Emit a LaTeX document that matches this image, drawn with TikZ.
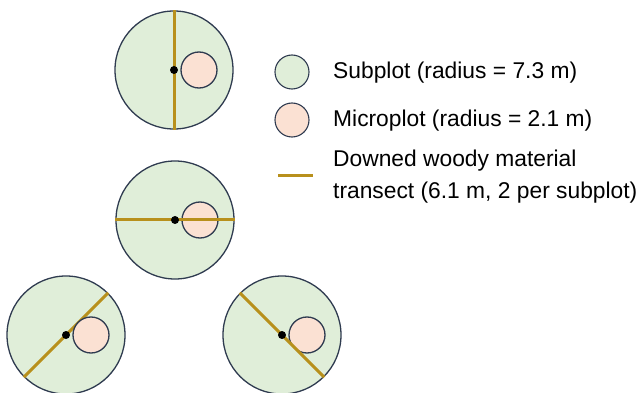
\documentclass[tikz,border=0pt]{standalone}
\usepackage{fontspec}
\setmainfont{Liberation Sans}
\definecolor{subfill}{HTML}{E0EED9}
\definecolor{microfill}{HTML}{FBE1D3}
\definecolor{rim}{HTML}{2F3B50}
\definecolor{gold}{HTML}{B8901C}
\tikzset{
  subplot/.style={circle, draw=rim, fill=subfill, line width=1.3pt, minimum size=118pt, inner sep=0pt},
  micro/.style={circle, draw=rim, fill=microfill, line width=1.3pt, minimum size=36pt, inner sep=0pt},
  legsub/.style={circle, draw=rim, fill=subfill, line width=1.1pt, minimum size=34pt, inner sep=0pt},
  legmicro/.style={circle, draw=rim, fill=microfill, line width=1.1pt, minimum size=34pt, inner sep=0pt},
  transect/.style={draw=gold, line width=3pt},
  centerdot/.style={circle, fill=black, minimum size=8pt, inner sep=0pt},
  legtext/.style={anchor=base west, font=\fontsize{22.8}{32}\selectfont, inner sep=0pt, align=left}
}
\begin{document}
\begin{tikzpicture}[x=1pt, y=-1pt]
\useasboundingbox (0,0) rectangle (638,393);
% top subplot
\node[subplot] (s1) at (174,70) {};
\draw[transect] (s1.north) -- (s1.south);
\node[micro] (m1) at (199,70) {};
\node[centerdot] (c1) at (174,70) {};
% middle subplot
\node[subplot] (s2) at (175,220) {};
\node[micro] (m2) at (200,220) {};
\draw[transect] (s2.west) -- (s2.east);
\node[centerdot] (c2) at (175,220) {};
% bottom left
\node[subplot] (s3) at (66,335) {};
\draw[transect] (s3.45) -- (s3.225);
\node[micro] (m3) at (91,335) {};
\node[centerdot] (c3) at (66,335) {};
% bottom right
\node[subplot] (s4) at (282,335) {};
\node[micro] (m4) at (307,335) {};
\draw[transect] (s4.135) -- (s4.315);
\node[centerdot] (c4) at (282,335) {};
% legend
\node[legsub] (l1) at (292,72) {};
\node[legmicro] (l2) at (292,120) {};
\coordinate (la) at (278,176);
\coordinate (lb) at (313,176);
\draw[transect] (la) -- (lb);
\node[legtext] (t1) at (333,79) {Subplot (radius = 7.3 m)};
\node[legtext] (t2) at (333,127) {Microplot (radius = 2.1 m)};
\node[legtext] (t3) at (333,167) {Downed woody material};
\node[legtext] (t4) at (333,199) {transect (6.1 m, 2 per subplot)};
\end{tikzpicture}
\end{document}
